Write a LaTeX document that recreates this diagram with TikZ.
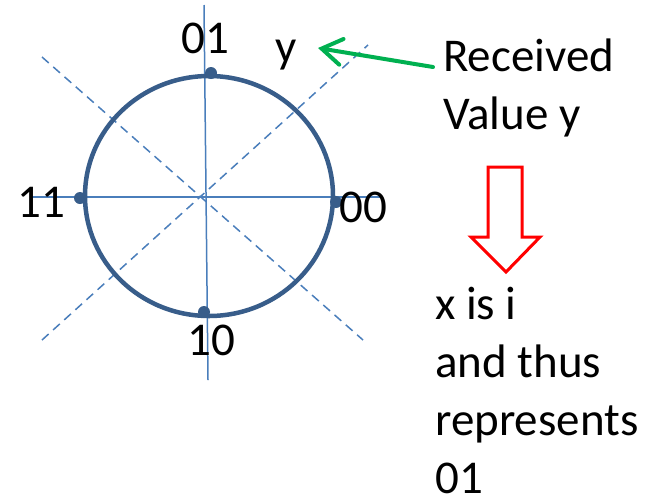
\documentclass[tikz,border=0pt]{standalone}
\usepackage{fontspec}
\setmainfont{Carlito}
\usetikzlibrary{arrows.meta,positioning}
\definecolor{ringblue}{RGB}{56,93,138}
\definecolor{axisblue}{RGB}{74,126,187}
\definecolor{okgreen}{RGB}{0,176,80}
\tikzset{
  ring/.style={draw=ringblue,line width=4.5pt},
  axis/.style={draw=axisblue,line width=1.5pt},
  diag/.style={axis,dash pattern=on 9pt off 6pt},
  dot/.style={circle,fill=ringblue,inner sep=0pt,minimum size=12pt},
  lbl/.style={font=\fontsize{47}{58}\selectfont,inner sep=0pt},
  recv/.style={draw=okgreen,line width=4pt,line cap=round,
    -{Straight Barb[length=20pt,width=26pt,line cap=round]}},
}

\begin{document}
\begin{tikzpicture}[x=1pt,y=-1pt]
  \useasboundingbox (0,0) rectangle (652,499);
  % axes
  \draw[axis] (204,5) -- (208,380);
  \draw[axis] (32,197) -- (380,197);
  \draw[diag] (42,57) -- (363,340);
  \draw[diag] (42,340) -- (368,45);
  % circle and the four points
  \draw[ring] (209,196) ellipse [x radius=124, y radius=120];
  \node[dot] (p01) at (211,73) {};
  \node[dot] (p11) at (80,198) {};
  \node[dot] (p00) at (336,202) {};
  \node[dot] (p10) at (204,312) {};
  \node[lbl,anchor=base] (l01) at (205,53) {01};
  \node[lbl,anchor=base] (l11) at (41,217) {11};
  \node[lbl,anchor=base] (l00) at (363,222) {00};
  \node[lbl,anchor=base] (l10) at (211,355) {10};
  \node[lbl,anchor=base] (yv) at (286,62) {y};
  % received value (base = last line)
  \node[lbl,anchor=base west,align=left] (rcv) at (443,129) {Received\\Value y};
  \coordinate (tail) at (433,67);
  \coordinate (tip) at (318,48);
  \draw[recv] (tail) -- (tip);
  % block arrow
  \draw[draw=red,line width=3pt,miter limit=10]
    (488,167) -- (522,167) -- (522,237) -- (540,237) -- (506,272)
    -- (471,237) -- (488,237) -- cycle;
  \node[lbl,anchor=base west,align=left] (res) at (435,493)
    {x is i\\and thus\\represents\\01};
\end{tikzpicture}
\end{document}
